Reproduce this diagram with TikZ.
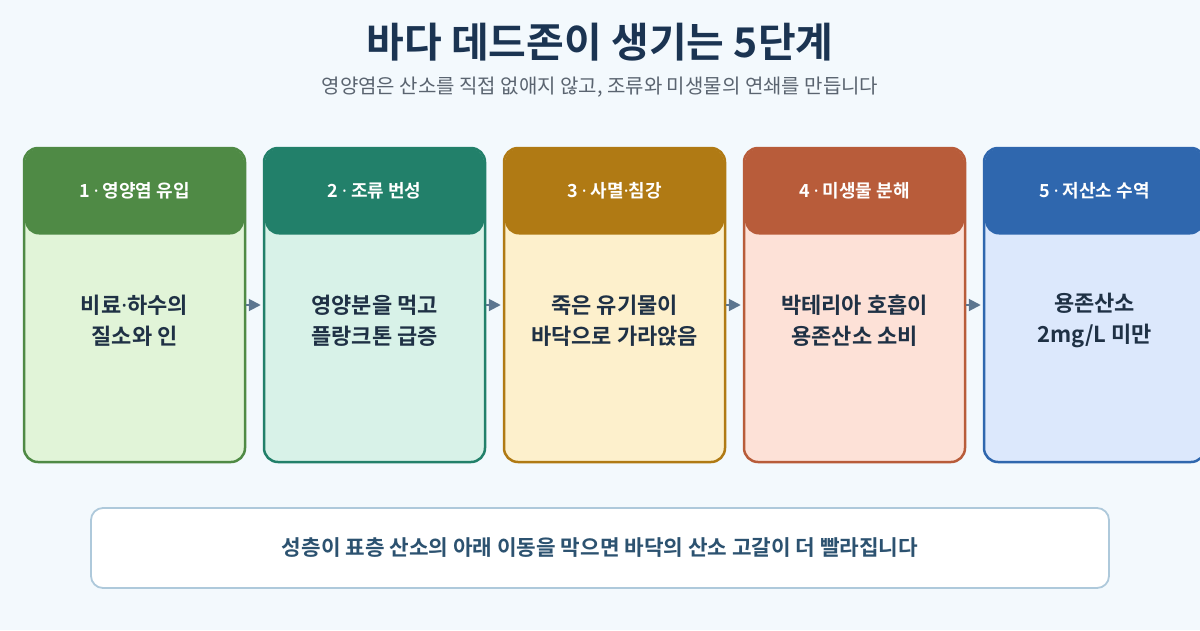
\documentclass[tikz,border=0pt]{standalone}
\usepackage{fontspec}
\setmainfont{Noto Sans CJK KR}[BoldFont={Noto Sans CJK KR Bold}]
\newfontfamily\dotfont{Noto Sans}
\newcommand{\mdt}{{\dotfont ·}}
\usetikzlibrary{arrows.meta}
\definecolor{bg}{HTML}{F3F9FD}
\definecolor{titlec}{HTML}{1B3452}
\definecolor{subc}{HTML}{5A6470}
\definecolor{bodyc}{HTML}{1F3145}
\definecolor{arrowc}{HTML}{5C7690}
\definecolor{noteb}{HTML}{AEC9DB}
\definecolor{notet}{HTML}{2C5270}
\definecolor{hA}{HTML}{4F8A45}\definecolor{fA}{HTML}{E1F4D8}
\definecolor{hB}{HTML}{22806A}\definecolor{fB}{HTML}{D8F2E8}
\definecolor{hC}{HTML}{B07A14}\definecolor{fC}{HTML}{FDF0CC}
\definecolor{hD}{HTML}{B85C3A}\definecolor{fD}{HTML}{FDE1D7}
\definecolor{hE}{HTML}{2F67AE}\definecolor{fE}{HTML}{DCE8FC}
\tikzset{
  stagebox/.style={draw=#1, line width=2.5pt, rounded corners=14pt, minimum width=221pt, minimum height=314pt, inner sep=0pt},
  headbox/.style={fill=#1, rounded corners=14pt, minimum width=219pt, minimum height=86pt, inner sep=0pt},
  headtext/.style={text=white, font=\bfseries\fontsize{18}{20}\selectfont},
  bodytext/.style={text=bodyc, align=center, font=\bfseries\fontsize{22}{31}\selectfont},
  flow/.style={draw=arrowc, line width=2pt, -{Triangle[length=12pt,width=12pt]}, shorten >=2pt}
}
\begin{document}
\begin{tikzpicture}[x=1pt,y=-1pt]
\useasboundingbox (0,0) rectangle (1200,630);
\fill[bg] (0,0) rectangle (1200,630);
\node[text=titlec, font=\bfseries\fontsize{41}{44}\selectfont] (title) at (600,42) {바다 데드존이 생기는 5단계};
\node[text=subc, font=\fontsize{20}{22}\selectfont] (sub) at (600,87) {영양염은 산소를 직접 없애지 않고, 조류와 미생물의 연쇄를 만듭니다};
\begin{scope}
\clip (0,0) rectangle (1200,630);
\foreach \i/\c/\h/\f/\ha/\ba/\bb in {
  1/134.5/hA/fA/{1 \mdt{} 영양염 유입}/{비료\mdt{}하수의}/{질소와 인},
  2/374.5/hB/fB/{2 \mdt{} 조류 번성}/{영양분을 먹고}/{플랑크톤 급증},
  3/614.5/hC/fC/{3 \mdt{} 사멸\mdt{}침강}/{죽은 유기물이}/{바닥으로 가라앉음},
  4/854.5/hD/fD/{4 \mdt{} 미생물 분해}/{박테리아 호흡이}/{용존산소 소비},
  5/1094.5/hE/fE/{5 \mdt{} 저산소 수역}/{용존산소}/{2mg/L 미만}}{
  \node[stagebox=\h, fill=\f] (b\i) at (\c,305) {};
  \node[headbox=\h] (h\i) at (\c,191.5) {};
  \node[headtext] (ht\i) at (\c,191) {\ha};
  \node[bodytext] (t\i) at (\c,320.5) {\ba\\\bb};
}
\end{scope}
\foreach \a/\b in {1/2,2/3,3/4,4/5}{
  \draw[flow] (b\a.east) -- (b\b.west);
}
\node[draw=noteb, fill=white, line width=1.8pt, rounded corners=12pt, minimum width=1018pt, minimum height=80pt] (note) at (600,548) {};
\node[text=notet, font=\bfseries\fontsize{21.3}{23}\selectfont] (notetext) at (600,548) {성층이 표층 산소의 아래 이동을 막으면 바닥의 산소 고갈이 더 빨라집니다};
\end{tikzpicture}
\end{document}
